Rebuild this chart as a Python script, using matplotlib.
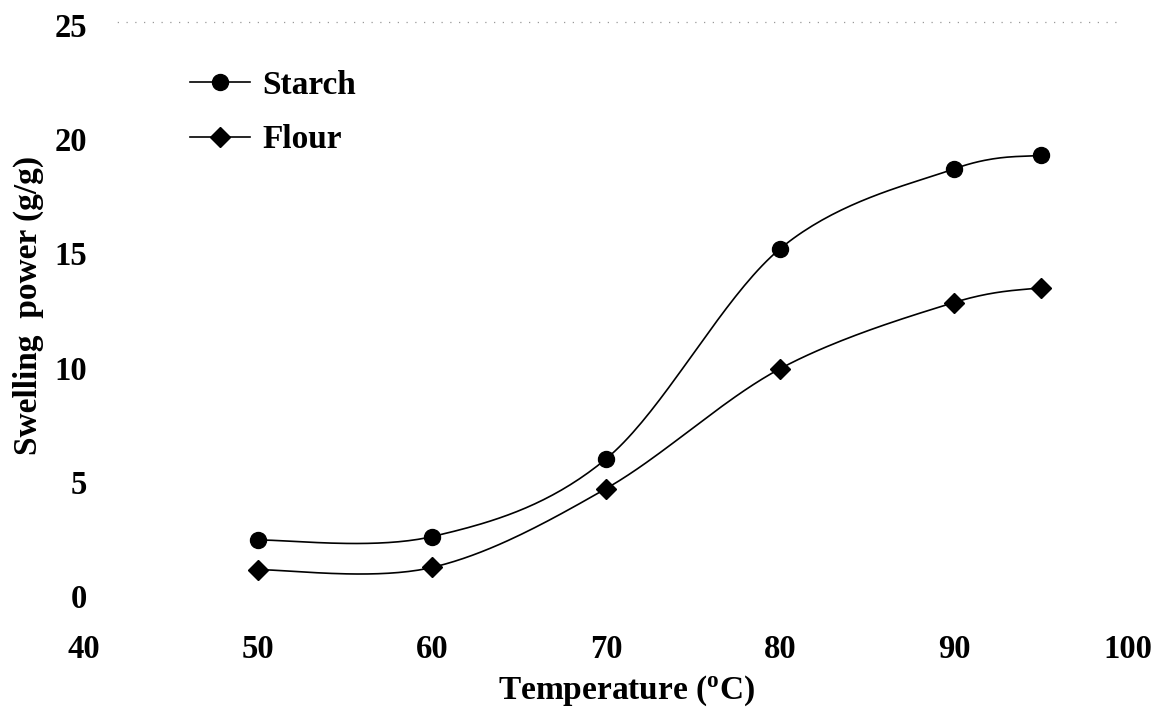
import numpy as np
import matplotlib
matplotlib.use("Agg")
import matplotlib.pyplot as plt
from matplotlib.patches import Rectangle

temperature = [50, 60, 70, 80, 90, 95]
starch = [2.45, 2.6, 6.0, 15.2, 18.7, 19.3]
flour = [1.15, 1.25, 4.7, 9.95, 12.85, 13.5]
x_ticks = [40, 50, 60, 70, 80, 90, 100]
y_ticks = [0, 5, 10, 15, 20, 25]

plt.rcParams['font.family'] = ['Liberation Serif', 'DejaVu Serif']
plt.rcParams['font.weight'] = 'bold'
plt.rcParams['mathtext.fontset'] = 'custom'
plt.rcParams['mathtext.rm'] = 'Liberation Serif'
plt.rcParams['mathtext.bf'] = 'Liberation Serif:bold'

fig = plt.figure(figsize=(11.63, 7.12), dpi=100)
ax = fig.add_axes([84 / 1163, 1 - 596 / 712, 1044 / 1163, 571 / 712])
ax.set_xlim(40, 100)
ax.set_ylim(0, 25)


def smooth(xs, ys, n=40):
    """Excel-like smoothed line (Catmull-Rom Bezier) computed in display space."""
    pts = ax.transData.transform(np.column_stack([xs, ys]))
    P = np.vstack([pts[0], pts, pts[-1]])
    out = []
    for i in range(1, len(P) - 2):
        p0, p1, p2, p3 = P[i - 1], P[i], P[i + 1], P[i + 2]
        c1 = p1 + (p2 - p0) / 6.0
        c2 = p2 - (p3 - p1) / 6.0
        t = np.linspace(0, 1, n)[:, None]
        seg = ((1 - t) ** 3) * p1 + 3 * ((1 - t) ** 2) * t * c1 + 3 * (1 - t) * t ** 2 * c2 + t ** 3 * p2
        out.append(seg if i == 1 else seg[1:])
    out = np.vstack(out)
    d = ax.transData.inverted().transform(out)
    return d[:, 0], d[:, 1]


sx, sy = smooth(temperature, starch)
fx, fy = smooth(temperature, flour)
ax.plot(sx, sy, color='black', lw=1.2)
ax.plot(fx, fy, color='black', lw=1.2)
ax.plot(temperature, starch, ls='none', marker='o', ms=11.5, color='black')
ax.plot(temperature, flour, ls='none', marker='D', ms=10, color='black')

# legend proxies
ax.plot([], [], color='black', lw=1.2, marker='o', ms=11.5, label='Starch')
ax.plot([], [], color='black', lw=1.2, marker='D', ms=10, label='Flour')
leg = ax.legend(loc='upper left', bbox_to_anchor=((190 - 84) / 1044, (596 - 70) / 571),
                frameon=False, fontsize=24, handlelength=1.8, handletextpad=0.38,
                labelspacing=0.7, borderaxespad=0, borderpad=0)

for s in ax.spines.values():
    s.set_visible(False)

ax.set_xticks(x_ticks)
ax.set_yticks(y_ticks)
ax.set_xticklabels([str(v) for v in x_ticks])
ax.set_yticklabels([str(v) for v in y_ticks])
ax.tick_params(axis='x', length=0, pad=27, labelsize=23.5)
ax.tick_params(axis='y', length=0, pad=-2, labelsize=23.5)

ax.set_xlabel(r'Temperature ($\mathbf{^{o}}$C)', fontsize=24, fontweight='bold')
ax.xaxis.set_label_coords((627 - 84) / 1044, (596 - 674) / 571)
ax.set_ylabel('Swelling  power (g/g)', fontsize=24, fontweight='bold')
ax.yaxis.set_label_coords((44 - 84) / 1044, (596 - 305) / 571)

# faint dotted frame from the scanned original
frame = Rectangle((115 / 1163, 1 - 592 / 712), (1118 - 115) / 1163, (592 - 22) / 712,
                  transform=fig.transFigure, fill=False, edgecolor='#999999',
                  lw=0.9, ls=(0, (1, 6)), zorder=0)
fig.add_artist(frame)

fig.savefig('out.png', dpi=100, facecolor='white')
